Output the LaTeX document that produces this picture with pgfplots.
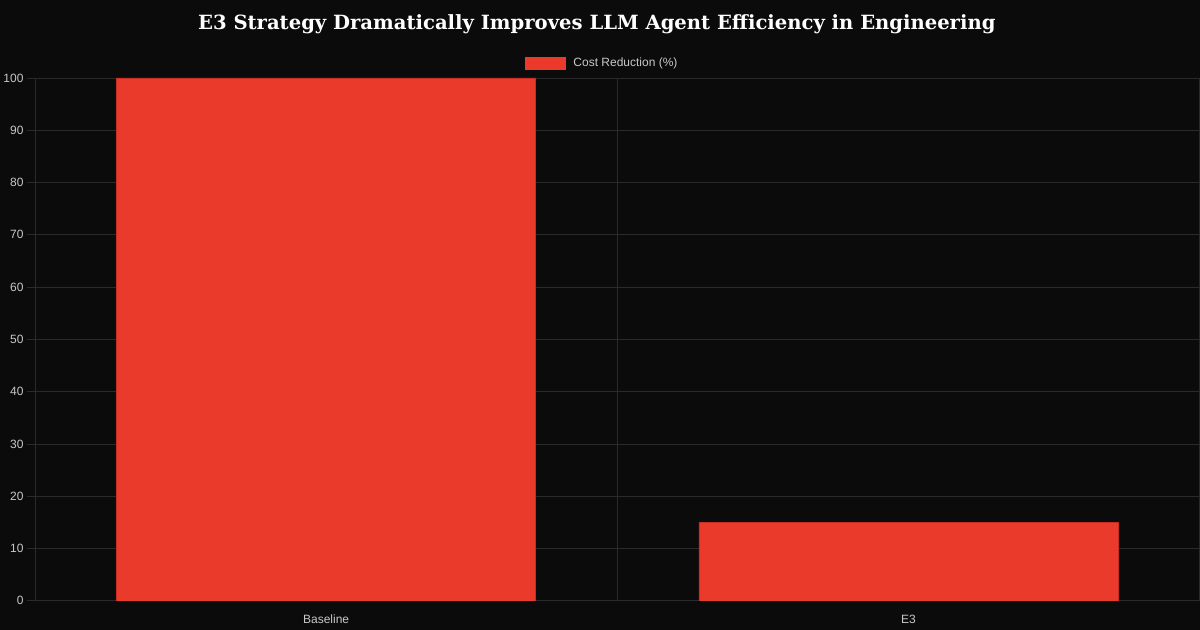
\documentclass[border=0pt]{standalone}
\usepackage{fontspec}
\setmainfont{Liberation Sans}
\newfontfamily\titlefont{DejaVu Serif}
\usepackage{pgfplots}
\pgfplotsset{compat=1.18}
\definecolor{bg}{RGB}{11,11,11}
\definecolor{gridc}{RGB}{42,42,42}
\definecolor{barc}{RGB}{233,58,43}
\definecolor{bard}{RGB}{200,45,35}
\definecolor{tickc}{RGB}{200,200,200}
\begin{document}
\begin{tikzpicture}[x=1bp,y=1bp]
\fill[bg] (0,0) rectangle (1200,630);
\node[text=white,font=\titlefont\bfseries\fontsize{19.6bp}{24bp}\selectfont] at (597,606) {E3 Strategy Dramatically Improves LLM Agent Efficiency in Engineering};
\begin{axis}[
  at={(35bp,29bp)}, anchor=south west,
  scale only axis, width=1165bp, height=523bp,
  xmin=-0.5, xmax=1.5, ymin=0, ymax=100,
  xtick={0,1}, xticklabels={Baseline,E3},
  minor xtick={-0.5,0.5,1.5},
  ytick={0,10,...,100},
  xmajorgrids=false, xminorgrids=true, ymajorgrids=true,
  major grid style={gridc, line width=0.8bp},
  minor grid style={gridc, line width=0.8bp},
  axis line style={gridc, line width=0.8bp},
  tick align=outside,
  major tick length=8bp, minor tick length=8bp,
  tick style={gridc, line width=0.8bp},
  xtick style={draw=none},
  minor x tick style={gridc, line width=0.8bp},
  xtick pos=bottom, ytick pos=left,
  ticklabel style={text=tickc, font=\fontsize{12bp}{14bp}\selectfont},
  xticklabel style={yshift=-2bp, text height=9bp, text depth=0bp},
  /pgf/number format/assume math mode=true,
  ybar, bar width=0.72,
  legend style={at={(0.487,1.0287)}, anchor=center, draw=none, fill=none,
    text=tickc, font=\fontsize{12bp}{14bp}\selectfont, inner sep=0pt},
  legend image code/.code={\fill[barc] (0bp,-6bp) rectangle (40bp,6bp); \path (46bp,0bp);},
]
\addplot[fill=barc, draw=bard, line width=0.6bp] coordinates {(0,100) (1,15)};
\addlegendentry{Cost Reduction (\%)}
\end{axis}
\end{tikzpicture}
\end{document}
